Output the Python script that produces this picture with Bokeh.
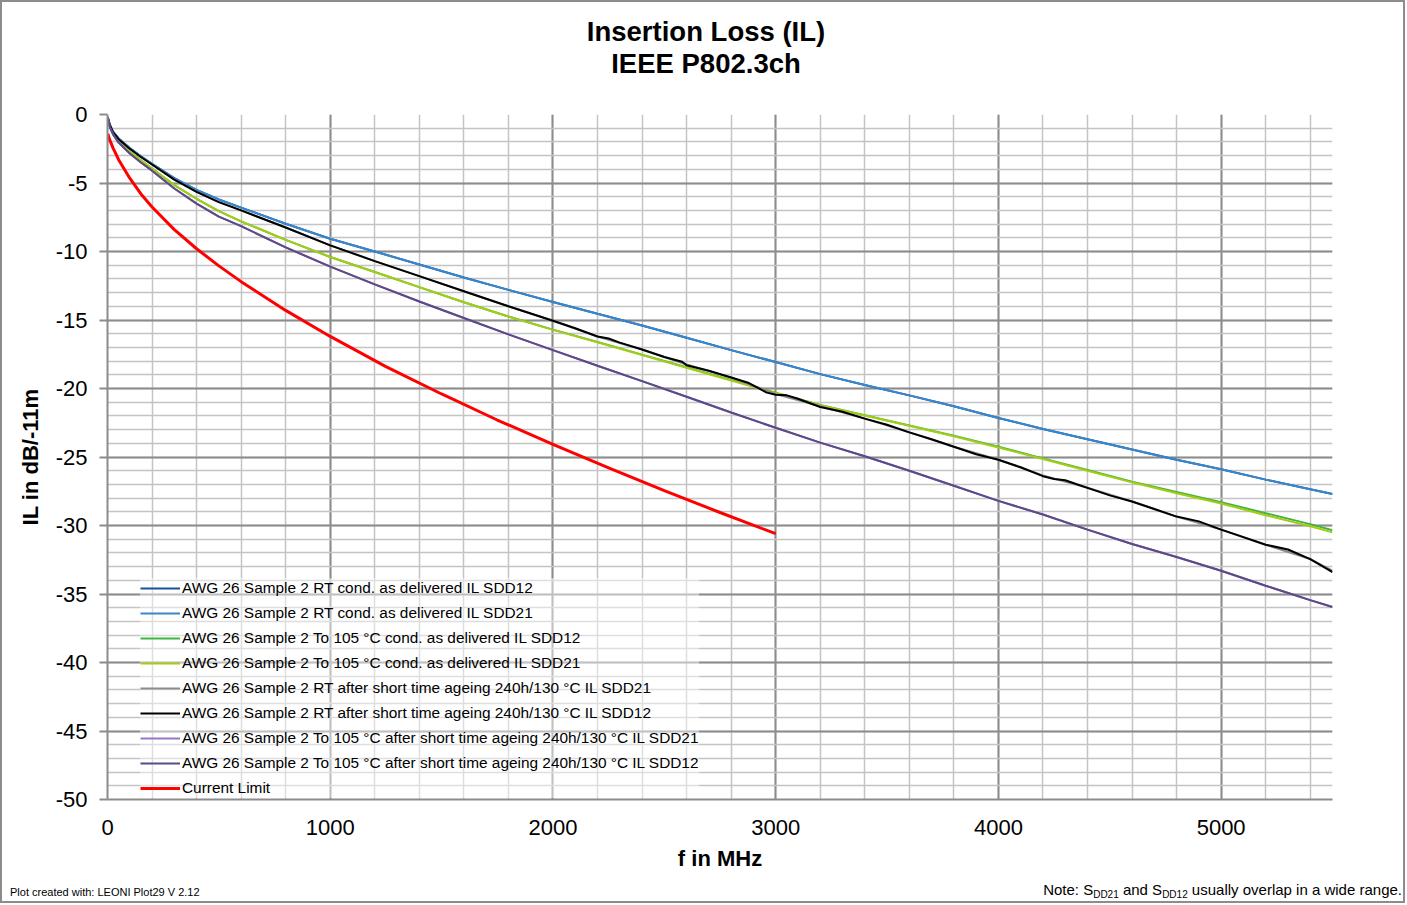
from bokeh.plotting import figure
from bokeh.layouts import column
from bokeh.models import (Range1d, SingleIntervalTicker, Legend, LegendItem,
                          PrintfTickFormatter, Div)
from bokeh.embed import file_html
from bokeh.resources import INLINE

# ---------------- data ----------------
freq_mhz = [1, 10, 25, 50, 100, 150, 200, 300, 400, 500, 600, 800, 1000, 1200, 1400,
            1600, 1800, 2000, 2200, 2400, 2600, 2800, 3000, 3200, 3400, 3600, 3800,
            4000, 4200, 4400, 4600, 4800, 5000, 5200, 5400, 5500]

rt_delivered_sdd12 = [-0.2, -0.75, -1.25, -1.75, -2.45, -3.05, -3.6, -4.65, -5.5, -6.2,
                      -6.8, -7.97, -9.07, -10.0, -10.95, -11.9, -12.8, -13.68, -14.55,
                      -15.4, -16.3, -17.2, -18.07, -18.95, -19.75, -20.5, -21.3, -22.15,
                      -22.95, -23.7, -24.45, -25.2, -25.9, -26.65, -27.35, -27.7]
rt_delivered_sdd21 = [-0.2, -0.75, -1.25, -1.75, -2.45, -3.05, -3.6, -4.65, -5.5, -6.2,
                      -6.8, -7.97, -9.07, -10.0, -10.95, -11.9, -12.8, -13.68, -14.55,
                      -15.4, -16.3, -17.2, -18.07, -18.95, -19.75, -20.5, -21.3, -22.15,
                      -22.95, -23.7, -24.45, -25.2, -25.9, -26.65, -27.35, -27.7]
hot_delivered_sdd12 = [-0.25, -0.85, -1.4, -1.95, -2.7, -3.35, -3.95, -5.15, -6.15, -7.05,
                       -7.8, -9.15, -10.4, -11.5, -12.6, -13.7, -14.75, -15.7, -16.6,
                       -17.53, -18.45, -19.38, -20.3, -21.2, -21.95, -22.7, -23.45, -24.25,
                       -25.1, -25.95, -26.8, -27.55, -28.3, -29.1, -29.9, -30.35]
hot_delivered_sdd21 = [-0.25, -0.85, -1.4, -1.95, -2.7, -3.35, -3.95, -5.15, -6.15, -7.05,
                       -7.8, -9.15, -10.4, -11.5, -12.6, -13.7, -14.75, -15.72, -16.63,
                       -17.56, -18.48, -19.41, -20.33, -21.22, -21.97, -22.72, -23.48, -24.3,
                       -25.15, -26.0, -26.85, -27.65, -28.4, -29.25, -30.05, -30.5]
rt_aged_sdd21 = [-0.2, -0.75, -1.3, -1.8, -2.5, -3.1, -3.65, -4.75, -5.65, -6.4,
                 -7.0, -8.25, -9.55, -10.7, -11.8, -12.9, -14.0, -15.05, -16.2,
                 -17.15, -18.25, -19.2, -20.4, -21.3, -22.2, -23.2, -24.25, -25.2,
                 -26.35, -27.25, -28.25, -29.35, -30.3, -31.4, -32.45, -33.3]
hot_aged_sdd21 = [-0.3, -0.9, -1.45, -2.05, -2.85, -3.5, -4.1, -5.4, -6.5, -7.45,
                  -8.15, -9.7, -11.1, -12.4, -13.65, -14.85, -16.05, -17.2, -18.34,
                  -19.46, -20.6, -21.75, -22.87, -23.95, -24.95, -26.0, -27.1, -28.2,
                  -29.2, -30.3, -31.35, -32.3, -33.3, -34.4, -35.45, -35.95]
hot_aged_sdd12 = [-0.3, -0.9, -1.45, -2.05, -2.85, -3.5, -4.1, -5.4, -6.5, -7.45,
                  -8.15, -9.7, -11.1, -12.4, -13.65, -14.85, -16.05, -17.2, -18.34,
                  -19.46, -20.6, -21.75, -22.87, -23.95, -24.95, -26.0, -27.1, -28.2,
                  -29.2, -30.3, -31.35, -32.3, -33.3, -34.4, -35.45, -35.95]

rt_aged_sdd12_freq = [1, 10, 25, 50, 100, 150, 200, 300, 400, 500, 600, 800, 1000, 1200,
                      1400, 1600, 1800, 2000, 2100, 2200, 2250, 2300, 2400, 2500, 2580,
                      2600, 2700, 2800, 2880, 2920, 2960, 3000, 3050, 3100, 3200, 3300,
                      3400, 3500, 3600, 3700, 3800, 3900, 4000, 4100, 4200, 4250, 4300,
                      4400, 4500, 4600, 4700, 4800, 4900, 5000, 5100, 5200, 5300, 5400, 5500]
rt_aged_sdd12 = [-0.2, -0.75, -1.3, -1.8, -2.5, -3.1, -3.65, -4.75, -5.65, -6.4,
                 -7.0, -8.25, -9.55, -10.7, -11.8, -12.9, -14.0, -15.05,
                 -15.6, -16.2, -16.35, -16.65, -17.15, -17.7, -18.05, -18.3,
                 -18.7, -19.2, -19.6, -19.95, -20.3, -20.45, -20.5, -20.75,
                 -21.35, -21.7, -22.2, -22.65, -23.2, -23.7, -24.25, -24.8,
                 -25.2, -25.75, -26.4, -26.6, -26.7, -27.25, -27.8, -28.25,
                 -28.8, -29.35, -29.7, -30.3, -30.85, -31.4, -31.75, -32.45, -33.4]

limit_freq = [1, 10, 25, 50, 100, 150, 200, 300, 400, 500, 600, 800, 1000, 1250, 1500,
              1750, 2000, 2250, 2500, 2750, 3000]
limit_vals = [-1.4, -1.85, -2.45, -3.3, -4.65, -5.8, -6.75, -8.4, -9.8, -11.05, -12.2,
              -14.3, -16.2, -18.4, -20.4, -22.3, -24.08, -25.8, -27.45, -29.05, -30.6]

series_names = [
    "AWG 26 Sample 2 RT cond. as delivered IL SDD12",
    "AWG 26 Sample 2 RT cond. as delivered IL SDD21",
    "AWG 26 Sample 2 To 105 \u00b0C cond. as delivered IL SDD12",
    "AWG 26 Sample 2 To 105 \u00b0C cond. as delivered IL SDD21",
    "AWG 26 Sample 2 RT after short time ageing 240h/130 \u00b0C IL SDD21",
    "AWG 26 Sample 2 RT after short time ageing 240h/130 \u00b0C IL SDD12",
    "AWG 26 Sample 2 To 105 \u00b0C after short time ageing 240h/130 \u00b0C IL SDD21",
    "AWG 26 Sample 2 To 105 \u00b0C after short time ageing 240h/130 \u00b0C IL SDD12",
    "Current Limit",
]
series_colors = ["#1B4F9C", "#3787CD", "#41B541", "#A5CC14", "#8C8C8C", "#000000",
                 "#9678C2", "#5C4A86", "#FF0000"]

title_lines = ["Insertion Loss (IL)", "IEEE P802.3ch"]
credit_text = "Plot created with: LEONI Plot29 V 2.12"

x_ticks_step = 1000
y_ticks_step = 5

FONT = "Liberation Sans"
W = 1401   # content width (2px border on each side)
B = 2      # border width

# ---------------- header (titles) ----------------
header_html = (
    f'<div style="position:relative;width:{W}px;height:98px;'
    f'font-family:\'{FONT}\';color:#000;">'
    f'<div style="position:absolute;left:0;top:14px;width:1408px;text-align:center;'
    f'font-size:27.5px;font-weight:bold;line-height:32px;">'
    f'{title_lines[0]}<br>{title_lines[1]}</div></div>'
)
header = Div(text=header_html, width=W, height=98, margin=(0, 0, 0, 0))

# ---------------- main chart ----------------
p = figure(width=W, height=776, output_backend="svg", toolbar_location=None,
           x_range=Range1d(0, 5500), y_range=Range1d(-50, 0),
           min_border_left=107 - B, min_border_right=(W + B) - 1332,
           min_border_top=14, min_border_bottom=77)
p.outline_line_color = None
p.background_fill_color = "white"
p.border_fill_color = "white"

p.xaxis.ticker = SingleIntervalTicker(interval=x_ticks_step, num_minor_ticks=5)
p.yaxis.ticker = SingleIntervalTicker(interval=y_ticks_step, num_minor_ticks=5)
p.xaxis.formatter = PrintfTickFormatter(format="%d")
p.yaxis.formatter = PrintfTickFormatter(format="%d")

for g in (p.xgrid, p.ygrid):
    g.grid_line_color = "#8C8C8C"
    g.grid_line_width = 2
    g.minor_grid_line_color = "#C4C4C4"
    g.minor_grid_line_width = 1.5

for ax in (p.xaxis, p.yaxis):
    ax.axis_line_color = "#8C8C8C"
    ax.axis_line_width = 2
    ax.major_tick_line_color = "#8C8C8C"
    ax.major_tick_line_width = 2
    ax.minor_tick_line_color = None
    ax.major_label_text_font = FONT
    ax.major_label_text_font_size = "22px"
    ax.major_label_text_color = "black"
    ax.axis_label_text_font = FONT
    ax.axis_label_text_font_size = "22px"
    ax.axis_label_text_font_style = "bold"
    ax.axis_label_text_color = "black"

p.xaxis.major_tick_out = 0
p.xaxis.major_tick_in = 0
p.xaxis.major_label_standoff = 16
p.xaxis.axis_label = "f in MHz"
p.xaxis.axis_label_standoff = 8
p.yaxis.major_tick_out = 8
p.yaxis.major_tick_in = 0
p.yaxis.major_label_standoff = 12
p.yaxis.axis_label = "IL in dB/-11m"
p.yaxis.axis_label_standoff = 10

xs_list = [freq_mhz, freq_mhz, freq_mhz, freq_mhz, freq_mhz, rt_aged_sdd12_freq,
           freq_mhz, freq_mhz, limit_freq]
ys_list = [rt_delivered_sdd12, rt_delivered_sdd21, hot_delivered_sdd12,
           hot_delivered_sdd21, rt_aged_sdd21, rt_aged_sdd12, hot_aged_sdd21,
           hot_aged_sdd12, limit_vals]
items = []
for name, col, xs, ys in zip(series_names, series_colors, xs_list, ys_list):
    w = 3 if name == "Current Limit" else 2
    r = p.line(xs, ys, line_color=col, line_width=w)
    items.append(LegendItem(label=name, renderers=[r]))

legend = Legend(items=items, location=(33, 1), orientation="vertical",
                label_text_font=FONT, label_text_font_size="15.4px",
                label_text_color="black", glyph_width=40, glyph_height=20,
                label_height=20, label_standoff=2, spacing=5, padding=0, margin=0,
                background_fill_color="white", background_fill_alpha=0.45,
                border_line_alpha=0)
p.add_layout(legend, "center")

# ---------------- footer ----------------
footer_html = (
    f'<div style="position:relative;width:{W}px;height:25px;'
    f'font-family:\'{FONT}\';color:#000;white-space:nowrap;">'
    f'<span style="position:absolute;left:8px;top:10px;font-size:11px;line-height:13px;">'
    f'{credit_text}</span>'
    f'<span style="position:absolute;right:1px;top:6px;font-size:15px;line-height:16px;">'
    f'Note: S<span style="font-size:10px;position:relative;top:3px;">DD21</span> and '
    f'S<span style="font-size:10px;position:relative;top:3px;">DD12</span> '
    f'usually overlap in a wide range.</span></div>'
)
footer = Div(text=footer_html, width=W, height=25, margin=(0, 0, 0, 0))

layout = column(header, p, footer, spacing=0)
layout.styles = {"border": f"{B}px solid #8C8C8C"}

open("out.html", "w").write(file_html(layout, INLINE))
